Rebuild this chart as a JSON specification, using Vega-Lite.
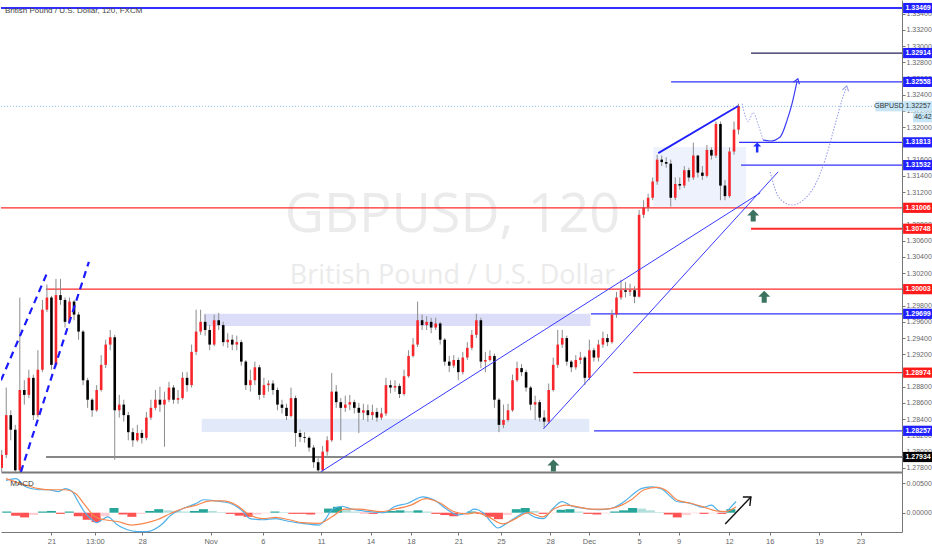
{
"$schema": "https://vega.github.io/schema/vega-lite/v6.json",
"padding": 0,
"background": "#ffffff",
"spacing": 0,
"config": {"view": {"stroke": null}, "font": "Liberation Sans", "axis": {"labelFont": "Liberation Sans", "labelFontSize": 7, "labelColor": "#666666", "tickColor": "#777777", "domainColor": "#777777", "grid": false, "labelOverlap": false, "labelBound": false}},
"datasets": {
"candles": [
{"t":-2.5,"o":1.2780,"h":1.2802,"l":1.2775,"c":1.2796},
{"t":-2.25,"o":1.2796,"h":1.2879,"l":1.2792,"c":1.2845},
{"t":-2.0,"o":1.2845,"h":1.2851,"l":1.2814,"c":1.2827},
{"t":-1.75,"o":1.2827,"h":1.2833,"l":1.2775,"c":1.2777},
{"t":-1.5,"o":1.2777,"h":1.2990,"l":1.2775,"c":1.2876},
{"t":-1.25,"o":1.2876,"h":1.2888,"l":1.2858,"c":1.2870},
{"t":-1.0,"o":1.2870,"h":1.2901,"l":1.2866,"c":1.2891},
{"t":-0.75,"o":1.2891,"h":1.2895,"l":1.2839,"c":1.2845},
{"t":-0.5,"o":1.2845,"h":1.2925,"l":1.2842,"c":1.2901},
{"t":-0.25,"o":1.2901,"h":1.2987,"l":1.2898,"c":1.2975},
{"t":0,"o":1.2975,"h":1.3006,"l":1.2972,"c":1.2990},
{"t":0.25,"o":1.2990,"h":1.2992,"l":1.2901,"c":1.2907},
{"t":0.5,"o":1.2907,"h":1.3013,"l":1.2904,"c":1.2993},
{"t":0.75,"o":1.2993,"h":1.3013,"l":1.2981,"c":1.2987},
{"t":1.0,"o":1.2987,"h":1.2990,"l":1.2953,"c":1.2960},
{"t":1.25,"o":1.2960,"h":1.2990,"l":1.2958,"c":1.2985},
{"t":1.5,"o":1.2985,"h":1.2987,"l":1.2962,"c":1.2969},
{"t":1.75,"o":1.2969,"h":1.2972,"l":1.2938,"c":1.2948},
{"t":2.0,"o":1.2948,"h":1.2950,"l":1.2882,"c":1.2888},
{"t":2.25,"o":1.2888,"h":1.2891,"l":1.2854,"c":1.2864},
{"t":2.5,"o":1.2864,"h":1.2866,"l":1.2843,"c":1.2851},
{"t":2.75,"o":1.2851,"h":1.2882,"l":1.2849,"c":1.2876},
{"t":3.0,"o":1.2876,"h":1.2919,"l":1.2874,"c":1.2907},
{"t":3.25,"o":1.2907,"h":1.2938,"l":1.2903,"c":1.2932},
{"t":3.5,"o":1.2932,"h":1.2950,"l":1.2925,"c":1.2941},
{"t":3.75,"o":1.2941,"h":1.2944,"l":1.2790,"c":1.2851},
{"t":4.0,"o":1.2851,"h":1.2870,"l":1.2842,"c":1.2858},
{"t":4.25,"o":1.2858,"h":1.2864,"l":1.2837,"c":1.2845},
{"t":4.5,"o":1.2845,"h":1.2849,"l":1.2814,"c":1.2824},
{"t":4.75,"o":1.2824,"h":1.2829,"l":1.2806,"c":1.2814},
{"t":5.0,"o":1.2814,"h":1.2833,"l":1.2812,"c":1.2823},
{"t":5.25,"o":1.2823,"h":1.2827,"l":1.2810,"c":1.2817},
{"t":5.5,"o":1.2817,"h":1.2849,"l":1.2814,"c":1.2842},
{"t":5.75,"o":1.2842,"h":1.2864,"l":1.2839,"c":1.2854},
{"t":6.0,"o":1.2854,"h":1.2876,"l":1.2851,"c":1.2864},
{"t":6.25,"o":1.2864,"h":1.2880,"l":1.2849,"c":1.2858},
{"t":6.5,"o":1.2858,"h":1.2874,"l":1.2806,"c":1.2864},
{"t":6.75,"o":1.2864,"h":1.2886,"l":1.2861,"c":1.2879},
{"t":7.0,"o":1.2879,"h":1.2882,"l":1.2859,"c":1.2864},
{"t":7.25,"o":1.2864,"h":1.2876,"l":1.2859,"c":1.2866},
{"t":7.5,"o":1.2866,"h":1.2898,"l":1.2864,"c":1.2891},
{"t":7.75,"o":1.2891,"h":1.2898,"l":1.2874,"c":1.2882},
{"t":8.0,"o":1.2882,"h":1.2932,"l":1.2879,"c":1.2923},
{"t":8.25,"o":1.2923,"h":1.2975,"l":1.2919,"c":1.2948},
{"t":8.5,"o":1.2948,"h":1.2975,"l":1.2944,"c":1.2960},
{"t":8.75,"o":1.2960,"h":1.2969,"l":1.2943,"c":1.2950},
{"t":9.0,"o":1.2950,"h":1.2956,"l":1.2925,"c":1.2932},
{"t":9.25,"o":1.2932,"h":1.2969,"l":1.2930,"c":1.2962},
{"t":9.5,"o":1.2962,"h":1.2971,"l":1.2950,"c":1.2956},
{"t":9.75,"o":1.2956,"h":1.2960,"l":1.2930,"c":1.2935},
{"t":10.0,"o":1.2935,"h":1.2946,"l":1.2928,"c":1.2938},
{"t":10.25,"o":1.2938,"h":1.2944,"l":1.2925,"c":1.2932},
{"t":10.5,"o":1.2932,"h":1.2943,"l":1.2925,"c":1.2935},
{"t":10.75,"o":1.2935,"h":1.2938,"l":1.2906,"c":1.2911},
{"t":11.0,"o":1.2911,"h":1.2913,"l":1.2876,"c":1.2882},
{"t":11.25,"o":1.2882,"h":1.2901,"l":1.2874,"c":1.2888},
{"t":11.5,"o":1.2888,"h":1.2911,"l":1.2882,"c":1.2904},
{"t":11.75,"o":1.2904,"h":1.2907,"l":1.2864,"c":1.2870},
{"t":12.0,"o":1.2870,"h":1.2891,"l":1.2866,"c":1.2882},
{"t":12.25,"o":1.2882,"h":1.2888,"l":1.2874,"c":1.2884},
{"t":12.5,"o":1.2884,"h":1.2888,"l":1.2870,"c":1.2876},
{"t":12.75,"o":1.2876,"h":1.2879,"l":1.2851,"c":1.2858},
{"t":13.0,"o":1.2858,"h":1.2864,"l":1.2847,"c":1.2854},
{"t":13.25,"o":1.2854,"h":1.2859,"l":1.2839,"c":1.2844},
{"t":13.5,"o":1.2844,"h":1.2879,"l":1.2842,"c":1.2866},
{"t":13.75,"o":1.2866,"h":1.2869,"l":1.2806,"c":1.2823},
{"t":14.0,"o":1.2823,"h":1.2827,"l":1.2812,"c":1.2818},
{"t":14.25,"o":1.2818,"h":1.2824,"l":1.2811,"c":1.2817},
{"t":14.5,"o":1.2817,"h":1.2819,"l":1.2800,"c":1.2805},
{"t":14.75,"o":1.2805,"h":1.2808,"l":1.2780,"c":1.2787},
{"t":15.0,"o":1.2787,"h":1.2792,"l":1.2775,"c":1.2777},
{"t":15.25,"o":1.2777,"h":1.2807,"l":1.2775,"c":1.2800},
{"t":15.5,"o":1.2800,"h":1.2819,"l":1.2795,"c":1.2814},
{"t":15.75,"o":1.2814,"h":1.2897,"l":1.2812,"c":1.2874},
{"t":16.0,"o":1.2874,"h":1.2882,"l":1.2854,"c":1.2861},
{"t":16.25,"o":1.2861,"h":1.2866,"l":1.2814,"c":1.2854},
{"t":16.5,"o":1.2854,"h":1.2869,"l":1.2849,"c":1.2858},
{"t":16.75,"o":1.2858,"h":1.2870,"l":1.2851,"c":1.2861},
{"t":17.0,"o":1.2861,"h":1.2864,"l":1.2847,"c":1.2854},
{"t":17.25,"o":1.2854,"h":1.2860,"l":1.2823,"c":1.2848},
{"t":17.5,"o":1.2848,"h":1.2859,"l":1.2839,"c":1.2851},
{"t":17.75,"o":1.2851,"h":1.2858,"l":1.2837,"c":1.2845},
{"t":18.0,"o":1.2845,"h":1.2858,"l":1.2839,"c":1.2849},
{"t":18.25,"o":1.2849,"h":1.2854,"l":1.2837,"c":1.2842},
{"t":18.5,"o":1.2842,"h":1.2854,"l":1.2839,"c":1.2847},
{"t":18.75,"o":1.2847,"h":1.2891,"l":1.2844,"c":1.2882},
{"t":19.0,"o":1.2882,"h":1.2888,"l":1.2872,"c":1.2879},
{"t":19.25,"o":1.2879,"h":1.2888,"l":1.2874,"c":1.2881},
{"t":19.5,"o":1.2881,"h":1.2884,"l":1.2866,"c":1.2871},
{"t":19.75,"o":1.2871,"h":1.2901,"l":1.2869,"c":1.2893},
{"t":20.0,"o":1.2893,"h":1.2925,"l":1.2891,"c":1.2918},
{"t":20.25,"o":1.2918,"h":1.2940,"l":1.2916,"c":1.2932},
{"t":20.5,"o":1.2932,"h":1.2985,"l":1.2929,"c":1.2962},
{"t":20.75,"o":1.2962,"h":1.2969,"l":1.2950,"c":1.2956},
{"t":21.0,"o":1.2956,"h":1.2967,"l":1.2950,"c":1.2960},
{"t":21.25,"o":1.2960,"h":1.2965,"l":1.2946,"c":1.2953},
{"t":21.5,"o":1.2953,"h":1.2965,"l":1.2950,"c":1.2958},
{"t":21.75,"o":1.2958,"h":1.2960,"l":1.2932,"c":1.2938},
{"t":22.0,"o":1.2938,"h":1.2940,"l":1.2906,"c":1.2911},
{"t":22.25,"o":1.2911,"h":1.2918,"l":1.2898,"c":1.2906},
{"t":22.5,"o":1.2906,"h":1.2919,"l":1.2903,"c":1.2913},
{"t":22.75,"o":1.2913,"h":1.2916,"l":1.2888,"c":1.2898},
{"t":23.0,"o":1.2898,"h":1.2923,"l":1.2895,"c":1.2916},
{"t":23.25,"o":1.2916,"h":1.2935,"l":1.2913,"c":1.2928},
{"t":23.5,"o":1.2928,"h":1.2950,"l":1.2925,"c":1.2944},
{"t":23.75,"o":1.2944,"h":1.2970,"l":1.2940,"c":1.2962},
{"t":24.0,"o":1.2962,"h":1.2965,"l":1.2903,"c":1.2911},
{"t":24.25,"o":1.2911,"h":1.2923,"l":1.2898,"c":1.2913},
{"t":24.5,"o":1.2913,"h":1.2925,"l":1.2911,"c":1.2918},
{"t":24.75,"o":1.2918,"h":1.2921,"l":1.2854,"c":1.2864},
{"t":25.0,"o":1.2864,"h":1.2866,"l":1.2824,"c":1.2833},
{"t":25.25,"o":1.2833,"h":1.2858,"l":1.2829,"c":1.2839},
{"t":25.5,"o":1.2839,"h":1.2859,"l":1.2837,"c":1.2851},
{"t":25.75,"o":1.2851,"h":1.2895,"l":1.2849,"c":1.2888},
{"t":26.0,"o":1.2888,"h":1.2911,"l":1.2886,"c":1.2903},
{"t":26.25,"o":1.2903,"h":1.2908,"l":1.2893,"c":1.2898},
{"t":26.5,"o":1.2898,"h":1.2901,"l":1.2874,"c":1.2879},
{"t":26.75,"o":1.2879,"h":1.2881,"l":1.2851,"c":1.2858},
{"t":27.0,"o":1.2858,"h":1.2869,"l":1.2839,"c":1.2861},
{"t":27.25,"o":1.2861,"h":1.2864,"l":1.2837,"c":1.2842},
{"t":27.5,"o":1.2842,"h":1.2851,"l":1.2829,"c":1.2837},
{"t":27.75,"o":1.2837,"h":1.2884,"l":1.2834,"c":1.2876},
{"t":28.0,"o":1.2876,"h":1.2916,"l":1.2874,"c":1.2907},
{"t":28.25,"o":1.2907,"h":1.2950,"l":1.2903,"c":1.2932},
{"t":28.5,"o":1.2932,"h":1.2950,"l":1.2928,"c":1.2940},
{"t":28.75,"o":1.2940,"h":1.2943,"l":1.2906,"c":1.2911},
{"t":29.0,"o":1.2911,"h":1.2913,"l":1.2898,"c":1.2904},
{"t":29.25,"o":1.2904,"h":1.2919,"l":1.2901,"c":1.2913},
{"t":29.5,"o":1.2913,"h":1.2923,"l":1.2908,"c":1.2916},
{"t":29.75,"o":1.2916,"h":1.2918,"l":1.2882,"c":1.2891},
{"t":30.0,"o":1.2891,"h":1.2938,"l":1.2888,"c":1.2925},
{"t":30.25,"o":1.2925,"h":1.2928,"l":1.2911,"c":1.2916},
{"t":30.5,"o":1.2916,"h":1.2938,"l":1.2911,"c":1.2932},
{"t":30.75,"o":1.2932,"h":1.2948,"l":1.2928,"c":1.2940},
{"t":31.0,"o":1.2940,"h":1.2945,"l":1.2930,"c":1.2935},
{"t":31.25,"o":1.2935,"h":1.2975,"l":1.2933,"c":1.2969},
{"t":31.5,"o":1.2969,"h":1.2997,"l":1.2965,"c":1.2990},
{"t":31.75,"o":1.2990,"h":1.3012,"l":1.2987,"c":1.2999},
{"t":32.0,"o":1.2999,"h":1.3009,"l":1.2990,"c":1.2997},
{"t":32.25,"o":1.2997,"h":1.3007,"l":1.2992,"c":1.2999},
{"t":32.5,"o":1.2999,"h":1.3004,"l":1.2983,"c":1.2991},
{"t":32.75,"o":1.2991,"h":1.3098,"l":1.2990,"c":1.3092},
{"t":33.0,"o":1.3092,"h":1.3110,"l":1.3088,"c":1.3101},
{"t":33.25,"o":1.3101,"h":1.3118,"l":1.3096,"c":1.3113},
{"t":33.5,"o":1.3113,"h":1.3138,"l":1.3110,"c":1.3133},
{"t":33.75,"o":1.3133,"h":1.3166,"l":1.3129,"c":1.3160},
{"t":34.0,"o":1.3160,"h":1.3165,"l":1.3152,"c":1.3157},
{"t":34.25,"o":1.3157,"h":1.3163,"l":1.3150,"c":1.3155},
{"t":34.5,"o":1.3155,"h":1.3160,"l":1.3102,"c":1.3113},
{"t":34.75,"o":1.3113,"h":1.3138,"l":1.3110,"c":1.3130},
{"t":35.0,"o":1.3130,"h":1.3138,"l":1.3123,"c":1.3128},
{"t":35.25,"o":1.3128,"h":1.3152,"l":1.3125,"c":1.3147},
{"t":35.5,"o":1.3147,"h":1.3150,"l":1.3133,"c":1.3138},
{"t":35.75,"o":1.3138,"h":1.3181,"l":1.3135,"c":1.3165},
{"t":36.0,"o":1.3165,"h":1.3166,"l":1.3138,"c":1.3144},
{"t":36.25,"o":1.3144,"h":1.3152,"l":1.3135,"c":1.3140},
{"t":36.5,"o":1.3140,"h":1.3178,"l":1.3138,"c":1.3172},
{"t":36.75,"o":1.3172,"h":1.3175,"l":1.3160,"c":1.3165},
{"t":37.0,"o":1.3165,"h":1.3207,"l":1.3162,"c":1.3204},
{"t":37.25,"o":1.3204,"h":1.3207,"l":1.3110,"c":1.3128},
{"t":37.5,"o":1.3128,"h":1.3135,"l":1.3110,"c":1.3115},
{"t":37.75,"o":1.3115,"h":1.3175,"l":1.3113,"c":1.3170},
{"t":38.0,"o":1.3170,"h":1.3207,"l":1.3166,"c":1.3197},
{"t":38.25,"o":1.3197,"h":1.3229,"l":1.3191,"c":1.3226}
],
"levels": [
{"p":1.33469,"from":-2.54,"kind":"zone"},
{"p":1.32914,"from":38.94,"kind":"target"},
{"p":1.32558,"from":34.52,"kind":"zone"},
{"p":1.31813,"from":38.28,"kind":"zone"},
{"p":1.31532,"from":38.39,"kind":"zone"},
{"p":1.31006,"from":-2.54,"kind":"key"},
{"p":1.30748,"from":38.94,"kind":"key"},
{"p":1.30003,"from":-0.05,"kind":"key"},
{"p":1.29699,"from":30.09,"kind":"zone"},
{"p":1.28974,"from":32.42,"kind":"key"},
{"p":1.28257,"from":30.26,"kind":"zone"},
{"p":1.27934,"from":-0.05,"kind":"extreme"}
],
"zones": [
{"t1":8.67,"t2":30.06,"p1":1.29699,"p2":1.2955,"kind":"upper"},
{"t1":8.56,"t2":30.0,"p1":1.28404,"p2":1.28243,"kind":"lower"},
{"t1":33.54,"t2":38.67,"p1":1.31757,"p2":1.31018,"kind":"range"}
],
"trends": [
{"id":"A","t":15.14,"p":1.2775},{"id":"A","t":39.45,"p":1.3119},
{"id":"B","t":27.46,"p":1.2828},{"id":"B","t":40.44,"p":1.3145}
],
"wedge": [{"t":33.81,"p":1.3168},{"t":38.23,"p":1.3226}],
"channel": [
{"id":"L1","t":-2.54,"p":1.2888},{"id":"L1","t":0.06,"p":1.3023},
{"id":"L2","t":-1.44,"p":1.2775},{"id":"L2","t":2.32,"p":1.3034}
],
"wiggle": [{"t":38.45,"p":1.3229},{"t":38.78,"p":1.3207},{"t":39.06,"p":1.3218},{"t":39.34,"p":1.3203},{"t":39.61,"p":1.3184}],
"bounce": [{"t":39.61,"p":1.3184},{"t":40.0,"p":1.3183},{"t":40.55,"p":1.3188},{"t":40.94,"p":1.3209},{"t":41.22,"p":1.3230},{"t":41.49,"p":1.3257}],
"retest": [{"t":40.0,"p":1.3145},{"t":40.28,"p":1.3123},{"t":40.72,"p":1.3108},{"t":41.22,"p":1.3104},{"t":41.82,"p":1.3110},{"t":42.49,"p":1.3129},{"t":43.04,"p":1.3160},{"t":43.59,"p":1.3203},{"t":43.98,"p":1.3234},{"t":44.2,"p":1.3248}],
"signals": [{"t":39.06,"p":1.3091},{"t":39.67,"p":1.2991},{"t":28.01,"p":1.2783}],
"cue": [{"t":39.28,"p":1.3175}],
"last": [{"t":38.25,"p":1.32257,"symbol":"GBPUSD","countdown":"46:42"}],
"hist": [
{"t":-2.5,"h":0.0002},{"t":-2.0,"h":-0.0005},{"t":-1.5,"h":-0.0008},{"t":-1.0,"h":-0.0004},{"t":-0.5,"h":0.0002},
{"t":0.0,"h":0.0003},{"t":0.5,"h":-0.0002},{"t":1.0,"h":0.0002},{"t":1.5,"h":-0.0006},{"t":2.0,"h":-0.0012},
{"t":2.5,"h":-0.0016},{"t":3.0,"h":-0.0006},{"t":3.5,"h":0.0008},{"t":4.0,"h":-0.0003},{"t":4.5,"h":-0.0007},
{"t":5.0,"h":-0.0002},{"t":5.5,"h":0.0003},{"t":6.0,"h":0.0006},{"t":6.5,"h":0.0004},{"t":7.0,"h":0.0003},
{"t":7.5,"h":0.0002},{"t":8.0,"h":0.0003},{"t":8.5,"h":0.0006},{"t":9.0,"h":0.0003},{"t":9.5,"h":0.0001},
{"t":10.0,"h":-0.0002},{"t":10.5,"h":-0.0005},{"t":11.0,"h":-0.0007},{"t":11.5,"h":-0.0003},{"t":12.0,"h":-0.0001},
{"t":12.5,"h":0.0002},{"t":13.0,"h":0.0001},{"t":13.5,"h":-0.0002},{"t":14.0,"h":-0.0002},{"t":14.5,"h":-0.0003},
{"t":15.0,"h":-0.0001},{"t":15.5,"h":0.0007},{"t":16.0,"h":0.0010},{"t":16.5,"h":0.0005},{"t":17.0,"h":0.0002},
{"t":17.5,"h":-0.0001},{"t":18.0,"h":-0.0002},{"t":18.5,"h":0.0001},{"t":19.0,"h":0.0003},{"t":19.5,"h":0.0004},
{"t":20.0,"h":0.0003},{"t":20.5,"h":0.0004},{"t":21.0,"h":0.0002},{"t":21.5,"h":-0.0002},{"t":22.0,"h":-0.0004},
{"t":22.5,"h":-0.0006},{"t":23.0,"h":-0.0003},{"t":23.5,"h":0.0002},{"t":24.0,"h":-0.0002},{"t":24.5,"h":-0.0007},
{"t":25.0,"h":-0.0011},{"t":25.5,"h":-0.0004},{"t":26.0,"h":0.0006},{"t":26.5,"h":0.0008},{"t":27.0,"h":0.0003},
{"t":27.5,"h":-0.0002},{"t":28.0,"h":-0.0001},{"t":28.5,"h":0.0005},{"t":29.0,"h":0.0006},{"t":29.5,"h":0.0002},
{"t":30.0,"h":-0.0002},{"t":30.5,"h":-0.0003},{"t":31.0,"h":-0.0001},{"t":31.5,"h":0.0002},{"t":32.0,"h":0.0004},
{"t":32.5,"h":0.0008},{"t":33.0,"h":0.0007},{"t":33.5,"h":0.0004},{"t":34.0,"h":0.0001},{"t":34.5,"h":-0.0003},
{"t":35.0,"h":-0.0008},{"t":35.5,"h":-0.0004},{"t":36.0,"h":-0.0001},{"t":36.5,"h":-0.0002},{"t":37.0,"h":-0.0001},
{"t":37.5,"h":-0.0002},{"t":38.0,"h":0.0006}
],
"macd": [
{"line":"MACD","t":-2.54,"v":0.0055},{"line":"MACD","t":-1.99,"v":0.0058},{"line":"MACD","t":-1.44,"v":0.0044},{"line":"MACD","t":-0.72,"v":0.0039},{"line":"MACD","t":-0.17,"v":0.0039},{"line":"MACD","t":0.39,"v":0.0036},{"line":"MACD","t":0.77,"v":0.0041},{"line":"MACD","t":1.16,"v":0.0036},{"line":"MACD","t":1.49,"v":0.0019},{"line":"MACD","t":1.88,"v":0.0},{"line":"MACD","t":2.27,"v":-0.0012},{"line":"MACD","t":2.54,"v":-0.0017},{"line":"MACD","t":2.82,"v":-0.0012},{"line":"MACD","t":3.15,"v":-0.0007},{"line":"MACD","t":3.70,"v":-0.0021},{"line":"MACD","t":4.25,"v":-0.0029},{"line":"MACD","t":4.81,"v":-0.0032},{"line":"MACD","t":5.36,"v":-0.0032},{"line":"MACD","t":6.13,"v":-0.0021},{"line":"MACD","t":6.69,"v":-0.0004},{"line":"MACD","t":7.40,"v":0.00075},{"line":"MACD","t":8.12,"v":0.0016},{"line":"MACD","t":8.51,"v":0.0022},{"line":"MACD","t":9.23,"v":0.0020},{"line":"MACD","t":10.0,"v":0.0016},{"line":"MACD","t":10.72,"v":0.0002},{"line":"MACD","t":11.10,"v":-0.0010},{"line":"MACD","t":11.82,"v":-0.0012},{"line":"MACD","t":12.54,"v":-0.0010},{"line":"MACD","t":13.31,"v":-0.0015},{"line":"MACD","t":14.03,"v":-0.0018},{"line":"MACD","t":14.97,"v":-0.0021},{"line":"MACD","t":15.30,"v":-0.0012},{"line":"MACD","t":15.69,"v":0.0005},{"line":"MACD","t":16.24,"v":0.0011},{"line":"MACD","t":16.80,"v":0.0006},{"line":"MACD","t":17.73,"v":0.0002},{"line":"MACD","t":18.62,"v":0.0},{"line":"MACD","t":19.17,"v":0.0010},{"line":"MACD","t":19.94,"v":0.0016},{"line":"MACD","t":20.77,"v":0.0027},{"line":"MACD","t":21.38,"v":0.0022},{"line":"MACD","t":22.15,"v":0.0005},{"line":"MACD","t":22.71,"v":-0.0004},{"line":"MACD","t":23.20,"v":-0.0001},{"line":"MACD","t":23.65,"v":0.0006},{"line":"MACD","t":24.14,"v":0.0},{"line":"MACD","t":24.59,"v":-0.0016},{"line":"MACD","t":24.97,"v":-0.0026},{"line":"MACD","t":25.41,"v":-0.0019},{"line":"MACD","t":25.97,"v":-0.0008},{"line":"MACD","t":26.52,"v":0.0},{"line":"MACD","t":27.07,"v":-0.0008},{"line":"MACD","t":27.51,"v":-0.0010},{"line":"MACD","t":28.01,"v":0.0006},{"line":"MACD","t":28.56,"v":0.0019},{"line":"MACD","t":29.12,"v":0.0011},{"line":"MACD","t":29.83,"v":0.00075},{"line":"MACD","t":30.55,"v":0.0005},{"line":"MACD","t":31.33,"v":0.00075},{"line":"MACD","t":32.04,"v":0.0019},{"line":"MACD","t":32.60,"v":0.0033},{"line":"MACD","t":32.98,"v":0.0041},{"line":"MACD","t":33.54,"v":0.0044},{"line":"MACD","t":34.09,"v":0.0041},{"line":"MACD","t":34.64,"v":0.0027},{"line":"MACD","t":34.97,"v":0.0019},{"line":"MACD","t":35.75,"v":0.0016},{"line":"MACD","t":36.46,"v":0.0009},{"line":"MACD","t":36.91,"v":0.0013},{"line":"MACD","t":37.40,"v":0.0002},{"line":"MACD","t":37.73,"v":0.0002},{"line":"MACD","t":38.01,"v":0.0010},{"line":"MACD","t":38.29,"v":0.0019},
{"line":"Signal","t":-2.54,"v":0.0058},{"line":"Signal","t":-1.44,"v":0.0047},{"line":"Signal","t":-0.72,"v":0.0041},{"line":"Signal","t":0.06,"v":0.0039},{"line":"Signal","t":0.77,"v":0.0039},{"line":"Signal","t":1.33,"v":0.0033},{"line":"Signal","t":1.88,"v":0.0013},{"line":"Signal","t":2.43,"v":-0.0007},{"line":"Signal","t":2.98,"v":-0.0012},{"line":"Signal","t":3.70,"v":-0.0015},{"line":"Signal","t":4.48,"v":-0.0021},{"line":"Signal","t":5.19,"v":-0.0018},{"line":"Signal","t":5.91,"v":-0.0012},{"line":"Signal","t":6.69,"v":-0.0001},{"line":"Signal","t":7.40,"v":0.00075},{"line":"Signal","t":8.12,"v":0.0013},{"line":"Signal","t":8.90,"v":0.0020},{"line":"Signal","t":9.61,"v":0.0020},{"line":"Signal","t":10.33,"v":0.0013},{"line":"Signal","t":11.10,"v":-0.0004},{"line":"Signal","t":11.82,"v":-0.0010},{"line":"Signal","t":12.54,"v":-0.0008},{"line":"Signal","t":13.31,"v":-0.0012},{"line":"Signal","t":14.03,"v":-0.0017},{"line":"Signal","t":14.97,"v":-0.0018},{"line":"Signal","t":15.69,"v":-0.0007},{"line":"Signal","t":16.41,"v":0.0006},{"line":"Signal","t":17.18,"v":0.0006},{"line":"Signal","t":18.45,"v":0.0002},{"line":"Signal","t":19.17,"v":0.0006},{"line":"Signal","t":20.11,"v":0.0013},{"line":"Signal","t":20.94,"v":0.0024},{"line":"Signal","t":21.77,"v":0.0016},{"line":"Signal","t":22.49,"v":0.0002},{"line":"Signal","t":23.20,"v":-0.0002},{"line":"Signal","t":23.76,"v":0.0},{"line":"Signal","t":24.48,"v":-0.0008},{"line":"Signal","t":25.25,"v":-0.0019},{"line":"Signal","t":25.97,"v":-0.001},{"line":"Signal","t":26.69,"v":0.0},{"line":"Signal","t":27.46,"v":-0.0007},{"line":"Signal","t":28.18,"v":0.00075},{"line":"Signal","t":28.73,"v":0.0013},{"line":"Signal","t":29.45,"v":0.0010},{"line":"Signal","t":30.22,"v":0.0006},{"line":"Signal","t":30.94,"v":0.0006},{"line":"Signal","t":31.66,"v":0.0010},{"line":"Signal","t":32.43,"v":0.0022},{"line":"Signal","t":33.15,"v":0.0039},{"line":"Signal","t":33.87,"v":0.0043},{"line":"Signal","t":34.42,"v":0.0037},{"line":"Signal","t":34.97,"v":0.0022},{"line":"Signal","t":35.75,"v":0.0016},{"line":"Signal","t":36.46,"v":0.0010},{"line":"Signal","t":37.18,"v":0.0003},{"line":"Signal","t":37.73,"v":0.0002},{"line":"Signal","t":38.29,"v":0.0010}
],
"macdArrow": [
{"id":"shaft","o":1,"t":37.68,"v":-0.00192},{"id":"shaft","o":2,"t":39.12,"v":0.00267},
{"id":"head","o":1,"t":38.67,"v":0.00267},{"id":"head","o":2,"t":39.12,"v":0.00267},{"id":"head","o":3,"t":39.06,"v":0.00114}
]
},
"vconcat": [
{
"width": 901, "height": 472,
"layer": [
{"data": {"values": [{"t": 22.43, "p": 1.3071, "label": "GBPUSD, 120"}]},
 "mark": {"type": "text", "fontSize": 54, "color": "#ebebeb", "font": "Open Sans", "align": "center", "baseline": "alphabetic"},
 "encoding": {
  "x": {"field": "t", "type": "quantitative", "title": null, "scale": {"domain": [-2.54, 47.29], "nice": false, "zero": false}, "axis": {"labels": false, "ticks": false, "domain": true, "domainWidth": 2, "domainColor": "#7a7a7a", "orient": "bottom", "title": null}},
  "y": {"field": "p", "type": "quantitative", "title": null, "scale": {"domain": [1.27749, 1.33568], "nice": false, "zero": false}, "axis": {"orient": "right", "title": null, "values": [1.278,1.28,1.282,1.284,1.286,1.288,1.29,1.292,1.294,1.296,1.298,1.3,1.302,1.304,1.306,1.308,1.31,1.312,1.314,1.316,1.318,1.32,1.322,1.324,1.326,1.328,1.33,1.332,1.334], "tickCount": 60, "format": ".5f", "tickSize": 3, "labelPadding": 1, "labelOverlap": false, "domain": true}},
  "text": {"field": "label"}}},
{"data": {"values": [{"t": 22.43, "p": 1.3007, "label": "British Pound / U.S. Dollar"}]},
 "mark": {"type": "text", "fontSize": 27, "color": "#ebebeb", "font": "Open Sans", "align": "center", "baseline": "alphabetic"},
 "encoding": {
  "x": {"field": "t", "type": "quantitative", "title": null, "scale": {"domain": [-2.54, 47.29], "nice": false, "zero": false}},
  "y": {"field": "p", "type": "quantitative", "title": null, "scale": {"domain": [1.27749, 1.33568], "nice": false, "zero": false}},
  "text": {"field": "label"}}},
{"data": {"name": "zones"},
 "mark": {"type": "rect"},
 "encoding": {
  "x": {"field": "t1", "type": "quantitative", "title": null, "scale": {"domain": [-2.54, 47.29], "nice": false, "zero": false}},
  "x2": {"field": "t2"},
  "y": {"field": "p1", "type": "quantitative", "title": null, "scale": {"domain": [1.27749, 1.33568], "nice": false, "zero": false}},
  "y2": {"field": "p2"},
  "fill": {"condition": [{"test": "datum.kind==='upper'", "value": "#dcdef9"}, {"test": "datum.kind==='lower'", "value": "#e2e9f8"}], "value": "#edf2fc"}}},
{"data": {"name": "levels"},
 "mark": {"type": "rule"},
 "encoding": {
  "x": {"field": "from", "type": "quantitative", "title": null, "scale": {"domain": [-2.54, 47.29], "nice": false, "zero": false}},
  "x2": {"datum": 47.29},
  "y": {"field": "p", "type": "quantitative", "title": null, "scale": {"domain": [1.27749, 1.33568], "nice": false, "zero": false}},
  "color": {"condition": [{"test": "datum.kind==='key'", "value": "#ff2a2a"}, {"test": "datum.kind==='extreme'", "value": "#111111"}, {"test": "datum.kind==='target'", "value": "#22225a"}], "value": "#3030ff"},
  "strokeWidth": {"condition": {"test": "datum.p > 1.334 || (datum.p > 1.307 && datum.p < 1.308)", "value": 2}, "value": 1.2}}},
{"data": {"name": "last"},
 "mark": {"type": "rule", "color": "#8fc3ea", "strokeDash": [1, 2], "strokeWidth": 1},
 "encoding": {
  "x": {"datum": -2.54, "type": "quantitative", "title": null, "scale": {"domain": [-2.54, 47.29], "nice": false, "zero": false}},
  "x2": {"datum": 47.29},
  "y": {"field": "p", "type": "quantitative", "title": null, "scale": {"domain": [1.27749, 1.33568], "nice": false, "zero": false}}}},
{"data": {"name": "candles"},
 "mark": {"type": "rule", "color": "#8c8c8c", "strokeWidth": 1, "clip": true},
 "encoding": {
  "x": {"field": "t", "type": "quantitative", "title": null, "scale": {"domain": [-2.54, 47.29], "nice": false, "zero": false}},
  "y": {"field": "l", "type": "quantitative", "title": null, "scale": {"domain": [1.27749, 1.33568], "nice": false, "zero": false}},
  "y2": {"field": "h"}}},
{"data": {"name": "candles"},
 "mark": {"type": "rule", "strokeWidth": 2.6, "clip": true},
 "encoding": {
  "x": {"field": "t", "type": "quantitative", "title": null, "scale": {"domain": [-2.54, 47.29], "nice": false, "zero": false}},
  "y": {"field": "o", "type": "quantitative", "title": null, "scale": {"domain": [1.27749, 1.33568], "nice": false, "zero": false}},
  "y2": {"field": "c"},
  "color": {"condition": {"test": "datum.c >= datum.o", "value": "#f7262b"}, "value": "#000000"}}},
{"data": {"name": "trends"},
 "mark": {"type": "line", "color": "#3a3aff", "strokeWidth": 1, "clip": true},
 "encoding": {
  "x": {"field": "t", "type": "quantitative", "title": null, "scale": {"domain": [-2.54, 47.29], "nice": false, "zero": false}},
  "y": {"field": "p", "type": "quantitative", "title": null, "scale": {"domain": [1.27749, 1.33568], "nice": false, "zero": false}},
  "detail": {"field": "id"}}},
{"data": {"name": "wedge"},
 "mark": {"type": "line", "color": "#2020ff", "strokeWidth": 1.8},
 "encoding": {
  "x": {"field": "t", "type": "quantitative", "title": null, "scale": {"domain": [-2.54, 47.29], "nice": false, "zero": false}},
  "y": {"field": "p", "type": "quantitative", "title": null, "scale": {"domain": [1.27749, 1.33568], "nice": false, "zero": false}}}},
{"data": {"name": "channel"},
 "mark": {"type": "line", "color": "#1a1aff", "strokeWidth": 2.2, "strokeDash": [7, 5], "clip": true},
 "encoding": {
  "x": {"field": "t", "type": "quantitative", "title": null, "scale": {"domain": [-2.54, 47.29], "nice": false, "zero": false}},
  "y": {"field": "p", "type": "quantitative", "title": null, "scale": {"domain": [1.27749, 1.33568], "nice": false, "zero": false}},
  "detail": {"field": "id"}}},
{"data": {"name": "wiggle"},
 "mark": {"type": "line", "color": "#9ea3e6", "strokeWidth": 1, "strokeDash": [1.5, 1.5], "interpolate": "monotone"},
 "encoding": {
  "x": {"field": "t", "type": "quantitative", "title": null, "scale": {"domain": [-2.54, 47.29], "nice": false, "zero": false}},
  "y": {"field": "p", "type": "quantitative", "title": null, "scale": {"domain": [1.27749, 1.33568], "nice": false, "zero": false}}}},
{"data": {"name": "bounce"},
 "mark": {"type": "line", "color": "#3c3cf5", "strokeWidth": 1.2, "interpolate": "monotone"},
 "encoding": {
  "x": {"field": "t", "type": "quantitative", "title": null, "scale": {"domain": [-2.54, 47.29], "nice": false, "zero": false}},
  "y": {"field": "p", "type": "quantitative", "title": null, "scale": {"domain": [1.27749, 1.33568], "nice": false, "zero": false}}}},
{"data": {"name": "retest"},
 "mark": {"type": "line", "color": "#9a9ee6", "strokeWidth": 1.1, "strokeDash": [1.5, 1.5], "interpolate": "monotone"},
 "encoding": {
  "x": {"field": "t", "type": "quantitative", "title": null, "scale": {"domain": [-2.54, 47.29], "nice": false, "zero": false}},
  "y": {"field": "p", "type": "quantitative", "title": null, "scale": {"domain": [1.27749, 1.33568], "nice": false, "zero": false}}}},
{"data": {"values": [{"t": 41.49, "p": 1.3257}]},
 "mark": {"type": "point", "shape": "M-0.8,0.6L0,-0.6L0.8,0.6", "filled": false, "size": 64, "angle": 18, "color": "#3c3cf5", "strokeWidth": 1.2, "opacity": 1},
 "encoding": {
  "x": {"field": "t", "type": "quantitative", "title": null, "scale": {"domain": [-2.54, 47.29], "nice": false, "zero": false}},
  "y": {"field": "p", "type": "quantitative", "title": null, "scale": {"domain": [1.27749, 1.33568], "nice": false, "zero": false}}}},
{"data": {"values": [{"t": 44.2, "p": 1.3248}]},
 "mark": {"type": "point", "shape": "M-0.8,0.6L0,-0.6L0.8,0.6", "filled": false, "size": 64, "angle": 15, "color": "#9a9ee6", "strokeWidth": 1.1, "opacity": 1},
 "encoding": {
  "x": {"field": "t", "type": "quantitative", "title": null, "scale": {"domain": [-2.54, 47.29], "nice": false, "zero": false}},
  "y": {"field": "p", "type": "quantitative", "title": null, "scale": {"domain": [1.27749, 1.33568], "nice": false, "zero": false}}}},
{"data": {"name": "signals"},
 "mark": {"type": "point", "shape": "M0,-1L1,0L0.42,0L0.42,1L-0.42,1L-0.42,0L-1,0Z", "filled": true, "size": 144, "color": "#3b7360", "opacity": 1, "strokeWidth": 0},
 "encoding": {
  "x": {"field": "t", "type": "quantitative", "title": null, "scale": {"domain": [-2.54, 47.29], "nice": false, "zero": false}},
  "y": {"field": "p", "type": "quantitative", "title": null, "scale": {"domain": [1.27749, 1.33568], "nice": false, "zero": false}}}},
{"data": {"name": "cue"},
 "mark": {"type": "point", "shape": "M0,-1L0.8,-0.2L0.25,-0.2L0.25,1L-0.25,1L-0.25,-0.2L-0.8,-0.2Z", "filled": true, "size": 100, "color": "#1f2fff", "opacity": 1, "strokeWidth": 0},
 "encoding": {
  "x": {"field": "t", "type": "quantitative", "title": null, "scale": {"domain": [-2.54, 47.29], "nice": false, "zero": false}},
  "y": {"field": "p", "type": "quantitative", "title": null, "scale": {"domain": [1.27749, 1.33568], "nice": false, "zero": false}}}},
{"data": {"name": "levels"},
 "mark": {"type": "point", "shape": "M-1,-0.34L1,-0.34L1,0.34L-1,0.34Z", "filled": true, "size": 900, "opacity": 1, "strokeWidth": 0},
 "encoding": {
  "x": {"datum": 48.18, "type": "quantitative", "title": null, "scale": {"domain": [-2.54, 47.29], "nice": false, "zero": false}},
  "y": {"field": "p", "type": "quantitative", "title": null, "scale": {"domain": [1.27749, 1.33568], "nice": false, "zero": false}},
  "fill": {"condition": [{"test": "datum.kind==='key'", "value": "#ff1a1a"}, {"test": "datum.kind==='extreme'", "value": "#000000"}], "value": "#1f1fff"}}},
{"data": {"name": "levels"},
 "mark": {"type": "text", "color": "#ffffff", "fontSize": 7, "fontWeight": "bold", "align": "center", "baseline": "middle"},
 "encoding": {
  "x": {"datum": 48.18, "type": "quantitative", "title": null, "scale": {"domain": [-2.54, 47.29], "nice": false, "zero": false}},
  "y": {"field": "p", "type": "quantitative", "title": null, "scale": {"domain": [1.27749, 1.33568], "nice": false, "zero": false}},
  "text": {"field": "p", "type": "quantitative", "format": ".5f"}}},
{"data": {"name": "last"},
 "mark": {"type": "point", "shape": "M-1,-0.37L1,-0.37L1,0.37L-1,0.37Z", "filled": true, "size": 729, "opacity": 1, "strokeWidth": 0, "color": "#c6e5f7"},
 "encoding": {
  "x": {"datum": 46.57, "type": "quantitative", "title": null, "scale": {"domain": [-2.54, 47.29], "nice": false, "zero": false}},
  "y": {"field": "p", "type": "quantitative", "title": null, "scale": {"domain": [1.27749, 1.33568], "nice": false, "zero": false}}}},
{"data": {"name": "last"},
 "mark": {"type": "point", "shape": "M-1,-0.34L1,-0.34L1,0.34L-1,0.34Z", "filled": true, "size": 900, "opacity": 1, "strokeWidth": 0, "color": "#c6e5f7"},
 "encoding": {
  "x": {"datum": 48.18, "type": "quantitative", "title": null, "scale": {"domain": [-2.54, 47.29], "nice": false, "zero": false}},
  "y": {"field": "p", "type": "quantitative", "title": null, "scale": {"domain": [1.27749, 1.33568], "nice": false, "zero": false}}}},
{"data": {"name": "last"},
 "mark": {"type": "point", "shape": "M-1,-0.5L1,-0.5L1,0.5L-1,0.5Z", "filled": true, "size": 400, "opacity": 1, "strokeWidth": 0, "color": "#c6e5f7", "yOffset": 11},
 "encoding": {
  "x": {"datum": 48.45, "type": "quantitative", "title": null, "scale": {"domain": [-2.54, 47.29], "nice": false, "zero": false}},
  "y": {"field": "p", "type": "quantitative", "title": null, "scale": {"domain": [1.27749, 1.33568], "nice": false, "zero": false}}}},
{"data": {"name": "last"},
 "mark": {"type": "text", "color": "#333333", "fontSize": 7, "align": "center", "baseline": "middle"},
 "encoding": {
  "x": {"datum": 46.57, "type": "quantitative", "title": null, "scale": {"domain": [-2.54, 47.29], "nice": false, "zero": false}},
  "y": {"field": "p", "type": "quantitative", "title": null, "scale": {"domain": [1.27749, 1.33568], "nice": false, "zero": false}},
  "text": {"field": "symbol"}}},
{"data": {"name": "last"},
 "mark": {"type": "text", "color": "#333333", "fontSize": 7, "align": "center", "baseline": "middle"},
 "encoding": {
  "x": {"datum": 48.18, "type": "quantitative", "title": null, "scale": {"domain": [-2.54, 47.29], "nice": false, "zero": false}},
  "y": {"field": "p", "type": "quantitative", "title": null, "scale": {"domain": [1.27749, 1.33568], "nice": false, "zero": false}},
  "text": {"field": "p", "type": "quantitative", "format": ".5f"}}},
{"data": {"name": "last"},
 "mark": {"type": "text", "color": "#333333", "fontSize": 7, "align": "center", "baseline": "middle", "yOffset": 11},
 "encoding": {
  "x": {"datum": 48.45, "type": "quantitative", "title": null, "scale": {"domain": [-2.54, 47.29], "nice": false, "zero": false}},
  "y": {"field": "p", "type": "quantitative", "title": null, "scale": {"domain": [1.27749, 1.33568], "nice": false, "zero": false}},
  "text": {"field": "countdown"}}},
{"data": {"values": [{"t": -2.32, "p": 1.3343, "label": "British Pound / U.S. Dollar, 120, FXCM"}]},
 "mark": {"type": "text", "fontSize": 8, "color": "#444444", "align": "left", "baseline": "middle"},
 "encoding": {
  "x": {"field": "t", "type": "quantitative", "title": null, "scale": {"domain": [-2.54, 47.29], "nice": false, "zero": false}},
  "y": {"field": "p", "type": "quantitative", "title": null, "scale": {"domain": [1.27749, 1.33568], "nice": false, "zero": false}},
  "text": {"field": "label"}}}
]
},
{
"width": 901, "height": 60,
"layer": [
{"data": {"name": "hist"},
 "transform": [{"window": [{"op": "lag", "field": "h", "as": "hp"}], "sort": [{"field": "t"}]}],
 "mark": {"type": "bar", "size": 9},
 "encoding": {
  "x": {"field": "t", "type": "quantitative", "title": null, "scale": {"domain": [-2.54, 47.29], "nice": false, "zero": false}, "axis": {"orient": "bottom", "title": null, "values": [0,2.43,5.08,8.9,11.82,15.08,17.85,20.11,22.76,25.14,27.9,30.06,32.87,35.08,37.9,40.17,42.93,45.25], "tickCount": 60, "labelExpr": "['21','13:00','28','Nov','6','11','14','18','21','25','28','Dec','5','9','12','16','19','23'][indexof([0,2.43,5.08,8.9,11.82,15.08,17.85,20.11,22.76,25.14,27.9,30.06,32.87,35.08,37.9,40.17,42.93,45.25], datum.value)]", "labelFontSize": 7.5, "tickSize": 3, "labelPadding": 2, "labelOverlap": false, "labelFlush": false, "domain": true}},
  "y": {"field": "h", "type": "quantitative", "title": null, "scale": {"domain": [-0.00328, 0.00692], "nice": false, "zero": false}, "axis": {"orient": "right", "title": null, "values": [0, 0.005], "format": ".5f", "tickSize": 3, "labelPadding": 1, "domain": true}},
  "y2": {"datum": 0},
  "color": {"condition": [{"test": "datum.h >= 0 && datum.h >= (datum.hp || 0)", "value": "#26a69a"}, {"test": "datum.h >= 0", "value": "#b2dfdb"}, {"test": "datum.h < 0 && datum.h <= (datum.hp || 0)", "value": "#ff5252"}], "value": "#ffcdd2"}}},
{"data": {"name": "macd"},
 "mark": {"type": "line", "strokeWidth": 1.2, "interpolate": "monotone"},
 "encoding": {
  "x": {"field": "t", "type": "quantitative", "title": null, "scale": {"domain": [-2.54, 47.29], "nice": false, "zero": false}},
  "y": {"field": "v", "type": "quantitative", "title": null, "scale": {"domain": [-0.00328, 0.00692], "nice": false, "zero": false}},
  "color": {"field": "line", "type": "nominal", "scale": {"domain": ["MACD", "Signal"], "range": ["#4fb0ea", "#f7874d"]}, "legend": null}}},
{"data": {"name": "macdArrow"},
 "mark": {"type": "line", "color": "#111111", "strokeWidth": 1.4},
 "encoding": {
  "x": {"field": "t", "type": "quantitative", "title": null, "scale": {"domain": [-2.54, 47.29], "nice": false, "zero": false}},
  "y": {"field": "v", "type": "quantitative", "title": null, "scale": {"domain": [-0.00328, 0.00692], "nice": false, "zero": false}},
  "detail": {"field": "id"},
  "order": {"field": "o"}}},
{"data": {"values": [{"t": -2.3, "v": 0.00488, "label": "MACD"}]},
 "mark": {"type": "text", "fontSize": 8, "color": "#444444", "align": "left", "baseline": "middle"},
 "encoding": {
  "x": {"field": "t", "type": "quantitative", "title": null, "scale": {"domain": [-2.54, 47.29], "nice": false, "zero": false}},
  "y": {"field": "v", "type": "quantitative", "title": null, "scale": {"domain": [-0.00328, 0.00692], "nice": false, "zero": false}},
  "text": {"field": "label"}}}
]
}
]
}
